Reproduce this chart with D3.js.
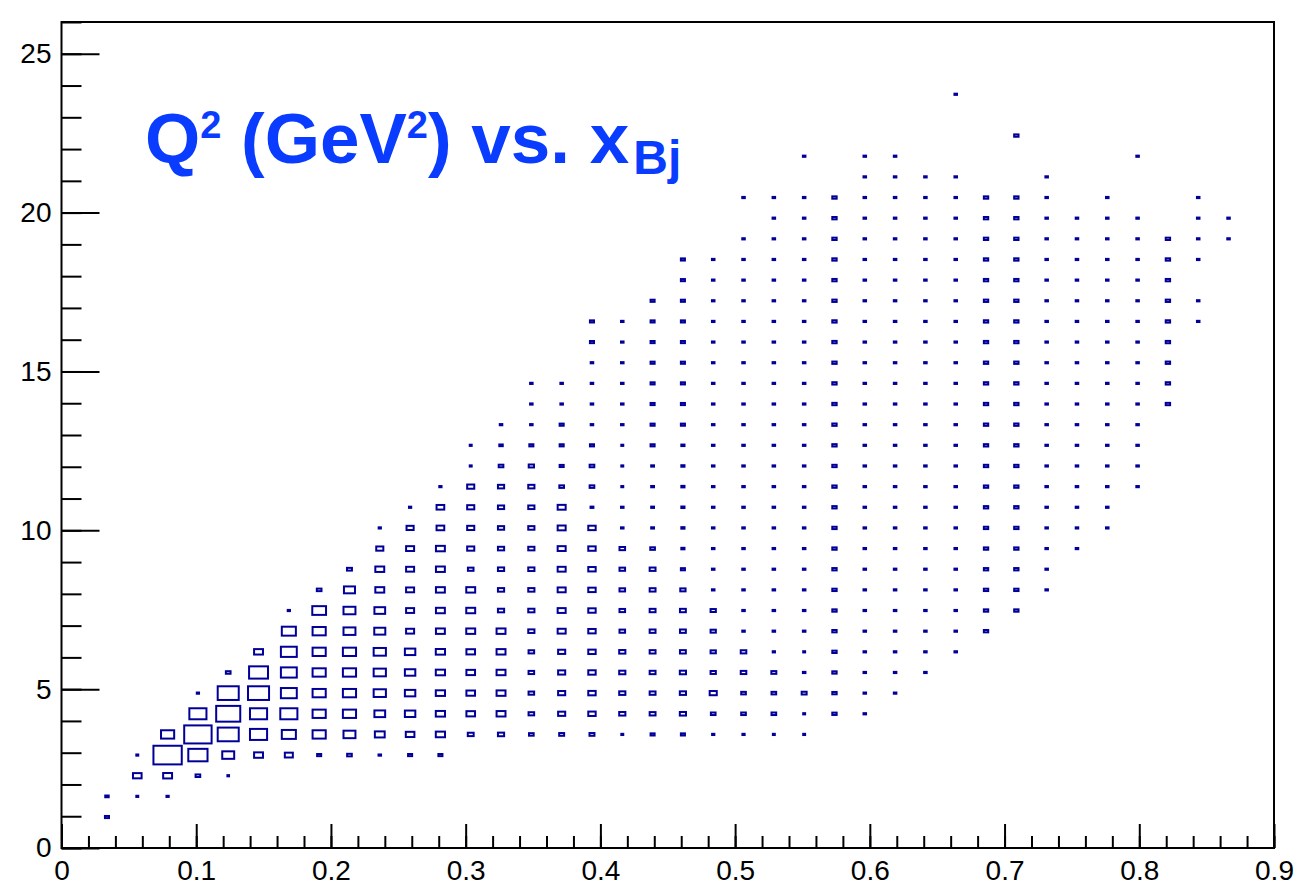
<html>
<head>
  <title>Q2 vs xBj</title>
</head>
<script src='https://d3js.org/d3.v7.min.js'></script>
<style>
  body { margin: 0; background: white; }
  text { font-family: "Liberation Sans", Arial, Helvetica, sans-serif; }
  .tick text { font-size: 28px; fill: black; }
  .tick line { stroke: black; stroke-width: 2px; }
</style>
<body onload='init()'>
<svg width=1302 height=887>
</svg>
<script>
// histogram binning
const nBinsX = 40, xMin = 0, xMax = 0.9;
const nBinsY = 40, yMin = 0, yMax = 26;

const xTickValues = [0, 0.1, 0.2, 0.3, 0.4, 0.5, 0.6, 0.7, 0.8, 0.9];
const xTickLabels = ["0", "0.1", "0.2", "0.3", "0.4", "0.5", "0.6", "0.7", "0.8", "0.9"];
const yTickValues = [0, 5, 10, 15, 20, 25];
const yTickLabels = ["0", "5", "10", "15", "20", "25"];

// first y bin with entries, per x bin
const colStart = [0, 1, 2, 2, 3, 3, 4, 4, 4, 4,
                  4, 4, 4, 5, 5, 5, 5, 5, 5, 5,
                  5, 5, 5, 5, 5, 6, 6, 7, 8, 9,
                  10, 11, 12, 14, 15, 17, 21, 25, 29, 0];

// bin contents (relative, 100 = biggest box), per x bin from colStart upward
const colCounts = [
  [],
  [20, 18],
  [13, 35, 13],
  [14, 36, 100, 50],
  [22, 70, 97, 63, 14],
  [12, 46, 76, 86, 76, 22],
  [36, 63, 63, 76, 69, 36],
  [33, 53, 63, 59, 59, 59, 53, 14],
  [20, 50, 50, 50, 50, 50, 50, 52, 22],
  [22, 46, 50, 50, 50, 50, 46, 46, 43, 23],
  [15, 39, 42, 47, 47, 47, 43, 42, 36, 36, 30, 14],
  [20, 35, 41, 41, 41, 41, 33, 33, 33, 33, 33, 30, 14],
  [20, 37, 37, 37, 37, 37, 36, 36, 36, 36, 36, 32, 32, 14],
  [26, 35, 35, 35, 35, 36, 36, 36, 25, 30, 30, 30, 30, 13, 13],
  [27, 36, 36, 36, 36, 36, 27, 27, 27, 27, 27, 27, 27, 22, 18, 15],
  [22, 25, 25, 25, 25, 27, 27, 27, 27, 27, 27, 27, 27, 24, 20, 15, 15, 15],
  [23, 30, 30, 30, 30, 33, 33, 33, 33, 33, 33, 33, 22, 20, 20, 20, 15, 15],
  [23, 31, 31, 31, 31, 31, 31, 31, 31, 31, 31, 16, 22, 22, 20, 15, 15, 15, 15, 20, 20],
  [13, 27, 27, 27, 27, 25, 25, 25, 25, 25, 15, 15, 13, 13, 13, 15, 15, 15, 15, 15, 15],
  [20, 26, 26, 26, 26, 26, 26, 26, 26, 22, 16, 16, 16, 16, 20, 20, 20, 20, 20, 20, 20, 20],
  [20, 27, 27, 27, 26, 26, 26, 24, 20, 17, 17, 17, 17, 17, 17, 20, 20, 20, 20, 20, 20, 20, 20, 20],
  [14, 22, 30, 24, 24, 24, 24, 15, 15, 15, 15, 15, 15, 15, 15, 15, 15, 15, 15, 15, 15, 15, 15, 15],
  [14, 22, 22, 25, 25, 15, 15, 15, 15, 15, 15, 15, 15, 15, 15, 15, 15, 15, 15, 15, 15, 15, 15, 15, 15, 0, 15],
  [13, 22, 22, 23, 14, 15, 15, 15, 15, 15, 15, 15, 15, 15, 15, 15, 15, 15, 15, 15, 15, 15, 15, 15, 15, 15, 15],
  [13, 13, 23, 15, 13, 15, 15, 15, 15, 15, 15, 15, 15, 15, 15, 15, 15, 15, 15, 15, 15, 15, 15, 15, 15, 15, 15, 0, 15],
  [21, 21, 21, 21, 21, 21, 21, 21, 21, 21, 21, 21, 21, 21, 21, 21, 21, 21, 21, 21, 21, 21, 21, 21, 21, 21],
  [15, 15, 15, 15, 15, 15, 15, 15, 15, 15, 15, 15, 15, 15, 15, 15, 15, 15, 15, 15, 15, 15, 15, 15, 15, 15, 15, 15],
  [15, 15, 15, 15, 15, 15, 15, 15, 15, 15, 15, 15, 15, 15, 15, 15, 15, 15, 15, 15, 15, 15, 15, 15, 15, 15, 15],
  [15, 15, 15, 15, 15, 15, 15, 15, 15, 15, 15, 15, 15, 15, 15, 15, 15, 15, 15, 15, 15, 15, 15, 15, 15],
  [15, 15, 15, 15, 15, 15, 15, 15, 15, 15, 15, 15, 15, 15, 15, 15, 15, 15, 15, 15, 15, 15, 15, 15, 0, 0, 0, 15],
  [21, 21, 21, 21, 21, 21, 21, 21, 21, 21, 21, 21, 21, 21, 21, 21, 21, 21, 21, 21, 21, 21],
  [21, 21, 21, 21, 21, 21, 21, 21, 21, 21, 21, 21, 21, 21, 21, 21, 21, 21, 21, 21, 21, 0, 0, 21],
  [15, 15, 15, 15, 15, 15, 15, 15, 15, 15, 15, 15, 15, 15, 15, 15, 15, 15, 15, 15, 15],
  [15, 15, 15, 15, 15, 15, 15, 15, 15, 15, 15, 15, 15, 15, 15, 15, 15],
  [15, 15, 15, 15, 15, 15, 15, 15, 15, 15, 15, 15, 15, 15, 15, 15, 15],
  [15, 15, 15, 15, 15, 15, 15, 15, 15, 15, 15, 15, 15, 15, 0, 0, 15],
  [21, 21, 21, 21, 21, 21, 21, 21, 21],
  [15, 15, 0, 15, 15, 15, 15],
  [15, 15],
  []
];
const maxCount = 100;

function init() {
  const svg = d3.select("svg");
  const left = 61.5, right = 1274, top = 22, bottom = 848;

  const x = d3.scaleLinear().domain([xMin, xMax]).range([left, right]);
  const y = d3.scaleLinear().domain([yMin, yMax]).range([bottom, top]);
  const dx = (xMax - xMin) / nBinsX, dy = (yMax - yMin) / nBinsY;
  const binW = x(dx) - x(0), binH = y(0) - y(dy);

  // flatten to cells
  const cells = [];
  colCounts.forEach(function(col, i) {
    col.forEach(function(c, k) {
      if (c > 0) cells.push({ix: i, iy: colStart[i] + k, c: c});
    });
  });

  const sw = 2;
  svg.append("g").selectAll("rect").data(cells).enter().append("rect")
    .attr("x", function(d) { var w = Math.max(binW * d.c / maxCount - sw, 0.8); return x(xMin + (d.ix + 0.5) * dx) - w / 2; })
    .attr("y", function(d) { var h = Math.max(binH * d.c / maxCount - sw, 1.2); return y(yMin + (d.iy + 0.5) * dy) - h / 2; })
    .attr("width", function(d) { return Math.max(binW * d.c / maxCount - sw, 0.8); })
    .attr("height", function(d) { return Math.max(binH * d.c / maxCount - sw, 1.2); })
    .attr("fill", "none")
    .attr("stroke", "#000099")
    .attr("stroke-width", sw);

  // minor ticks
  const xMinor = d3.range(0, 46).map(function(k) { return k * 0.02; }).filter(function(v) { return v <= xMax + 1e-9; });
  const yMinor = d3.range(0, 27);

  svg.append("g").attr("transform", "translate(0," + bottom + ")")
    .call(d3.axisBottom(x).tickValues(xMinor).tickSize(-12).tickFormat(""))
    .call(function(g) { g.select(".domain").remove(); });
  svg.append("g").attr("transform", "translate(" + left + ",0)")
    .call(d3.axisLeft(y).tickValues(yMinor).tickSize(-20).tickFormat(""))
    .call(function(g) { g.select(".domain").remove(); });

  // major ticks + labels
  svg.append("g").attr("transform", "translate(0," + bottom + ")")
    .call(d3.axisBottom(x).tickValues(xTickValues).tickSize(-24).tickPadding(12)
      .tickFormat(function(d, i) { return xTickLabels[i]; }))
    .call(function(g) { g.select(".domain").remove(); });
  svg.append("g").attr("transform", "translate(" + left + ",0)")
    .call(d3.axisLeft(y).tickValues(yTickValues).tickSize(-38).tickPadding(10)
      .tickFormat(function(d, i) { return yTickLabels[i]; }))
    .call(function(g) { g.select(".domain").remove(); });

  // frame
  svg.append("rect")
    .attr("x", left).attr("y", top)
    .attr("width", right - left).attr("height", bottom - top)
    .attr("fill", "none").attr("stroke", "black").attr("stroke-width", 2);

  // title
  const t = svg.append("text")
    .attr("x", 145).attr("y", 163)
    .attr("font-size", 71).attr("font-weight", "bold")
    .attr("fill", "#0a3cff");
  t.append("tspan").text("Q");
  t.append("tspan").attr("font-size", 38).attr("dy", -25).text("2");
  t.append("tspan").attr("dy", 25).text(" (GeV");
  t.append("tspan").attr("font-size", 38).attr("dy", -25).text("2");
  t.append("tspan").attr("dy", 25).text(") vs. x");
  t.append("tspan").attr("font-size", 48).attr("dx", 4).attr("dy", 11).text("Bj");
}
</script>
</body>
</html>
